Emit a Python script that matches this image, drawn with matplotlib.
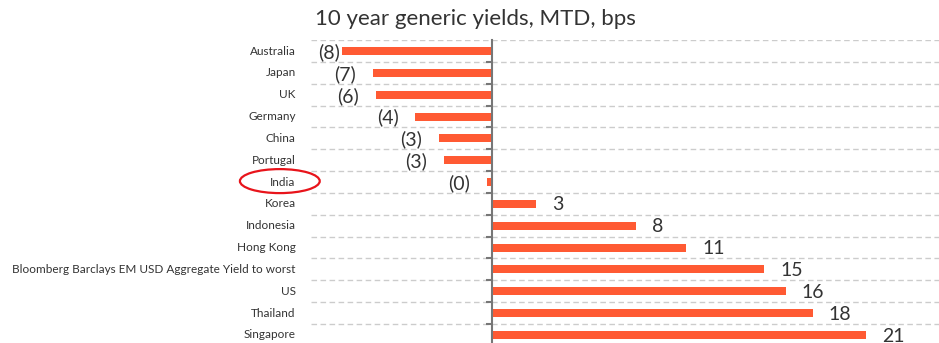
import matplotlib
matplotlib.use("Agg")
import matplotlib.pyplot as plt
from matplotlib.patches import Ellipse
from matplotlib.transforms import blended_transform_factory

# dados (bps, MTD)
paises = ["Australia", "Japan", "UK", "Germany", "China", "Portugal", "India",
          "Korea", "Indonesia", "Hong Kong",
          "Bloomberg Barclays EM USD Aggregate Yield to worst",
          "US", "Thailand", "Singapore"]
valores = [-8.4, -6.7, -6.5, -4.3, -3.0, -2.7, -0.3,
           2.5, 8.1, 10.9, 15.3, 16.5, 18.0, 21.0]
rotulos = ["(8)", "(7)", "(6)", "(4)", "(3)", "(3)", "(0)",
           "3", "8", "11", "15", "16", "18", "21"]

plt.rcParams['font.family'] = ['Lato', 'DejaVu Sans']
cor_texto = "#333333"

fig = plt.figure(figsize=(9.39, 3.43), dpi=100)
ax = fig.add_axes([0.331, 0.0, 0.669, 0.883])

y = list(range(len(paises)))
ax.barh(y, valores, height=0.37, color="#FF5A33", zorder=3)

ax.set_xlim(-10.17, 25.1)
ax.set_ylim(13.37, -0.5)

# linhas tracejadas entre as categorias
for b in range(len(paises)):
    ax.axhline(b - 0.5, color="#cccccc", lw=1, ls=(0, (4, 2.5)), zorder=1)

# eixo no zero
for s in ["top", "right", "bottom"]:
    ax.spines[s].set_visible(False)
ax.spines["left"].set_position(("data", 0))
ax.spines["left"].set_color("#777777")
ax.spines["left"].set_linewidth(1.5)
ax.spines["left"].set_zorder(4)
ax.set_xticks([])
ax.set_yticks(y)
ax.set_yticklabels([])
ax.tick_params(axis="y", which="major", length=0)
ax.set_yticks([b + 0.5 for b in y[:-1]], minor=True)
ax.tick_params(axis="y", which="minor", length=4, width=1.5, color="#777777")

# nomes das categorias na borda esquerda
trans = blended_transform_factory(ax.transAxes, ax.transData)
for yi, nome in zip(y, paises):
    ax.text(-0.024, yi, nome, transform=trans, ha="right", va="center",
            fontsize=8.5, color=cor_texto)

# rótulos dos valores
for yi, v, r in zip(y, valores, rotulos):
    if v < 0:
        ax.text(max(v - 0.95, -8.55), yi + 0.05, r, ha="right", va="center",
                fontsize=14, color=cor_texto)
    else:
        ax.text(v + 0.9, yi + 0.05, r, ha="left", va="center",
                fontsize=14, color=cor_texto)

fig.text(0.506, 0.945, "10 year generic yields, MTD, bps", ha="center", va="center",
         fontsize=16, color=cor_texto)

# destaque na Índia
fig.patches.append(Ellipse((0.298, 0.472), 0.085, 0.07, transform=fig.transFigure,
                           fill=False, edgecolor="#e8141b", lw=1.6))

fig.savefig("out.png", dpi=100)
